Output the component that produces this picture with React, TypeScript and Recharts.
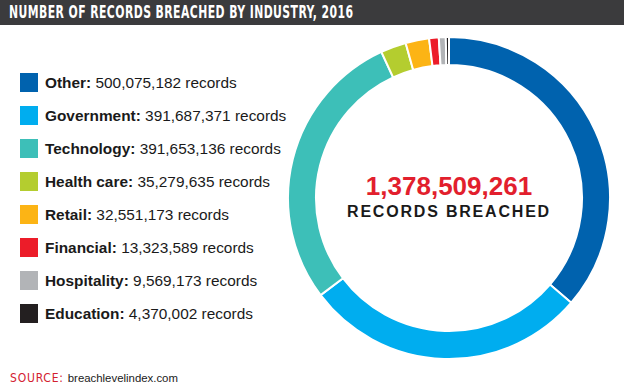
import React from "react";
import { PieChart, Pie, Cell } from "recharts";

const industries = ["Other", "Government", "Technology", "Health care", "Retail", "Financial", "Hospitality", "Education"];
const records = [500075182, 391687371, 391653136, 35279635, 32551173, 13323589, 9569173, 4370002];
const colors = ["#0062ae", "#00adef", "#3dbfb8", "#b4cd2f", "#fcb415", "#ec1c29", "#b2b4b7", "#231f20"];

const data = industries.map((name, i) => ({ name, value: records[i] }));
const total = records.reduce((a, b) => a + b, 0);

const condensed = "'Liberation Sans Narrow', 'DejaVu Sans Condensed', sans-serif";
const sans = "'Liberation Sans', Arial, sans-serif";

export default function App() {
	return (
		<div
			style={{
				position: "absolute",
				left: 0,
				top: 0,
				width: 624,
				height: 390,
				background: "#fff",
				overflow: "hidden"
			}}
		>
			<div
				style={{
					position: "absolute",
					left: 0,
					top: 0,
					width: 624,
					height: 25,
					background: "#3b3b3d"
				}}
			>
				<div
					style={{
						position: "absolute",
						left: 9,
						top: 0,
						color: "#fff",
						fontFamily: condensed,
						fontWeight: 700,
						fontSize: 17,
						letterSpacing: 0.6,
						lineHeight: "25px",
						whiteSpace: "nowrap",
						transform: "scaleX(0.71)",
						transformOrigin: "left center"
					}}
				>
					NUMBER OF RECORDS BREACHED BY INDUSTRY, 2016
				</div>
			</div>

			<div style={{ position: "absolute", left: 0, top: 0 }}>
				<PieChart width={624} height={390}>
					<Pie
						data={data}
						dataKey="value"
						nameKey="name"
						cx={444}
						cy={193}
						innerRadius={133}
						outerRadius={161}
						startAngle={90}
						endAngle={-270}
						stroke="#fff"
						strokeWidth={2}
						isAnimationActive={false}
					>
						{data.map((_, i) => (
							<Cell key={`cell-${i}`} fill={colors[i]} />
						))}
					</Pie>
				</PieChart>
			</div>

			{data.map((d, i) => (
				<div
					key={d.name}
					style={{
						position: "absolute",
						left: 20,
						top: 73 + i * 33,
						height: 19,
						display: "flex",
						alignItems: "center",
						fontFamily: sans,
						fontSize: 15.4,
						color: "#1a1a1a",
						whiteSpace: "nowrap"
					}}
				>
					<span style={{ width: 18, height: 19, background: colors[i], display: "inline-block", marginRight: 7 }} />
					<span style={{ fontWeight: 700 }}>{d.name}:</span>
					&nbsp;{d.value.toLocaleString("en-US")} records
				</div>
			))}

			<div
				style={{
					position: "absolute",
					left: 349,
					width: 200,
					top: 171,
					textAlign: "center",
					fontFamily: sans,
					fontWeight: 700,
					fontSize: 26,
					color: "#e21f2d",
					lineHeight: "30px"
				}}
			>
				{total.toLocaleString("en-US")}
			</div>
			<div
				style={{
					position: "absolute",
					left: 339,
					width: 220,
					top: 202,
					textAlign: "center",
					fontFamily: sans,
					fontWeight: 700,
					fontSize: 16,
					letterSpacing: 1.8,
					color: "#1a1a1a",
					lineHeight: "20px"
				}}
			>
				RECORDS BREACHED
			</div>

			<div
				style={{
					position: "absolute",
					left: 10,
					top: 369,
					lineHeight: "16px",
					whiteSpace: "nowrap"
				}}
			>
				<span style={{ fontFamily: condensed, color: "#d3202f", letterSpacing: 0.8, fontSize: 12 }}>SOURCE:</span>{" "}
				<span style={{ fontFamily: sans, color: "#1a1a1a", fontSize: 11.4 }}>breachlevelindex.com</span>
			</div>
		</div>
	);
}
